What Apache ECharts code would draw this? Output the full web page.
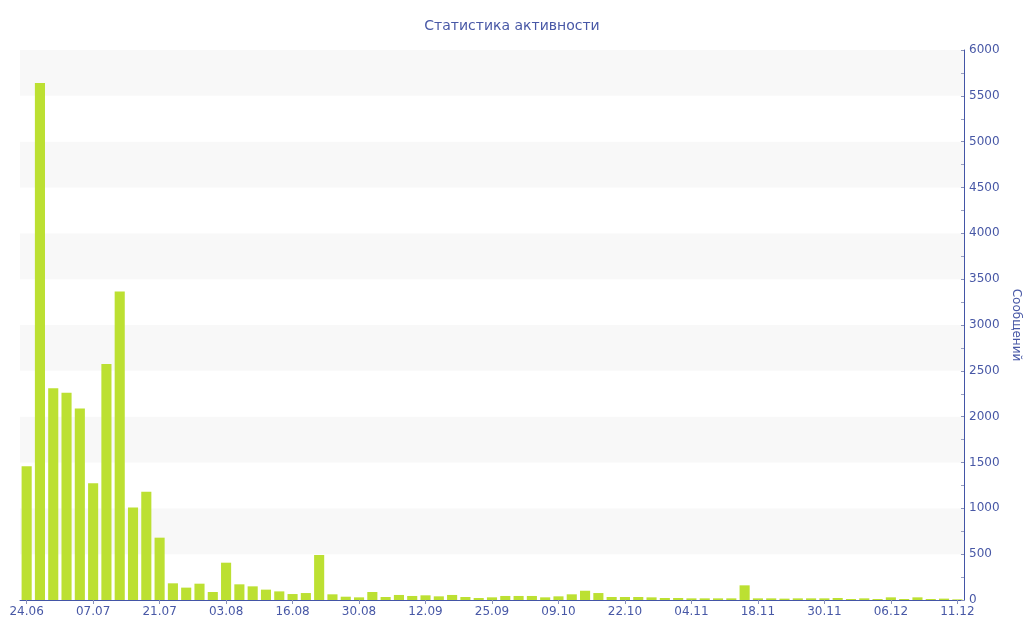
<!DOCTYPE html>
<html><head><meta charset="utf-8">
<script src="https://cdn.jsdelivr.net/npm/echarts@6/dist/echarts.min.js"></script>
<style>html,body{margin:0;padding:0;background:#fff}#c{width:1024px;height:640px}</style>
</head><body><div id="c"></div>
<script>
const titleText = 'Статистика активности';
const yAxisName = 'Сообщений';
const categories = [
 '24.06','27.06','29.06','02.07','04.07',
 '07.07','10.07','13.07','16.07','18.07',
 '21.07','24.07','26.07','29.07','31.07',
 '03.08','06.08','08.08','11.08','13.08',
 '16.08','19.08','22.08','25.08','27.08',
 '30.08','02.09','04.09','07.09','09.09',
 '12.09','15.09','17.09','20.09','22.09',
 '25.09','28.09','01.10','04.10','06.10',
 '09.10','12.10','14.10','17.10','19.10',
 '22.10','25.10','27.10','30.10','01.11',
 '04.11','07.11','10.11','13.11','15.11',
 '18.11','20.11','23.11','25.11','28.11',
 '30.11','01.12','02.12','03.12','05.12',
 '06.12','07.12','08.12','09.12','10.12',
 '11.12'
];
const messages = [
 1460,5640,2310,2260,2090,
 1275,2575,3365,1010,1180,
 680,182,135,178,87,
 407,171,149,113,94,
 65,76,491,62,36,
 29,87,33,55,44,
 51,40,55,33,22,
 29,44,44,44,29,
 40,62,101,76,33,
 33,33,29,22,22,
 18,18,18,18,160,
 18,18,15,18,18,
 18,22,11,18,11,
 29,11,29,11,15,
 7
];
const yTicks = {min:0, max:6000, interval:500};

const axisColor = '#4355a6';
const textColor = '#4858a6';
const chart = echarts.init(document.getElementById('c'));
chart.setOption({
  animation:false,
  title:{text:titleText,left:'center',top:14,textStyle:{color:textColor,fontFamily:'DejaVu Sans',fontSize:14,fontWeight:'normal'}},
  grid:{left:20,right:60,top:50,bottom:40,containLabel:false,outerBoundsMode:'none'},
  xAxis:{type:'category',data:categories,boundaryGap:true,
    axisLine:{lineStyle:{color:axisColor,width:1}},
    axisTick:{show:true,interval:4,alignWithLabel:true,length:4,lineStyle:{color:'#8890b8'}},
    axisLabel:{interval:4,color:textColor,fontFamily:'DejaVu Sans',fontSize:12,margin:6},
    splitLine:{show:false}},
  yAxis:{type:'value',position:'right',min:yTicks.min,max:yTicks.max,interval:yTicks.interval,
    name:yAxisName,nameLocation:'middle',nameRotate:-90,nameGap:38,
    nameTextStyle:{color:textColor,fontFamily:'DejaVu Sans',fontSize:12},
    axisLine:{show:true,lineStyle:{color:axisColor,width:1}},
    axisTick:{show:true,inside:true,length:3,lineStyle:{color:'#8890b8'}},
    minorTick:{show:true,splitNumber:2,length:3,lineStyle:{color:'#9aa0c0'}},
    axisLabel:{color:textColor,fontFamily:'DejaVu Sans',fontSize:12,margin:5,formatter:function(v){return String(v);}},
    splitLine:{show:false},
    splitArea:{show:true,areaStyle:{color:['#ffffff','#f8f8f8']}}},
  series:[{type:'bar',data:messages,barCategoryGap:'24%',
    itemStyle:{color:'#bce032'}}]
});
</script></body></html>
